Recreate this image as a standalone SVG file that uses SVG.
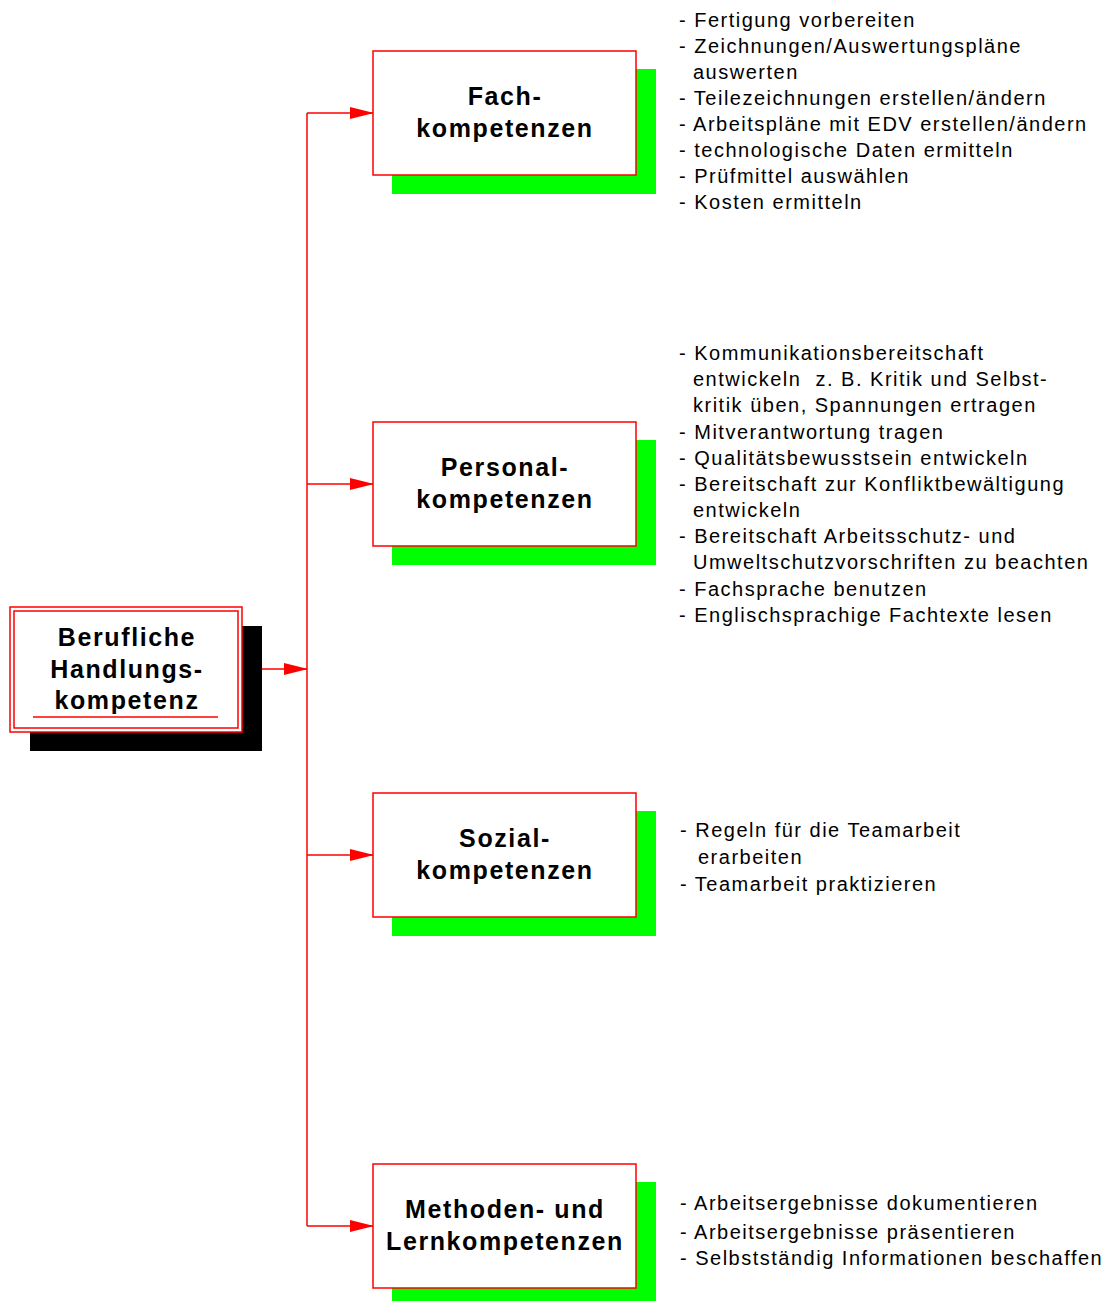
<svg xmlns="http://www.w3.org/2000/svg" width="1105" height="1301" viewBox="0 0 1105 1301">
<style>
.box{fill:#fff;stroke:#ff0000;stroke-width:1.5}
.sh{fill:#00ff00}
.t{font-family:"Liberation Sans",Arial,sans-serif;font-weight:bold;font-size:25px;letter-spacing:1.6px;text-anchor:middle;fill:#000}
.d{font-family:"Liberation Sans",Arial,sans-serif;font-size:20px;letter-spacing:1.5px;fill:#000}
.c{fill:none;stroke:#ff0000;stroke-width:1.5}
</style>
<defs>
<marker id="ah" markerWidth="24" markerHeight="12" refX="23" refY="6" orient="auto" markerUnits="userSpaceOnUse">
<path d="M0,0 L24,6 L0,12 z" fill="#ff0000"/>
</marker>
</defs>
<rect width="1105" height="1301" fill="#fff"/>
<g id="connectors">
<line class="c" x1="307" y1="113" x2="307" y2="1226"/>
<line class="c" x1="262" y1="669" x2="307" y2="669" marker-end="url(#ah)"/>
<line class="c" x1="307" y1="113" x2="373" y2="113" marker-end="url(#ah)"/>
<line class="c" x1="307" y1="484" x2="373" y2="484" marker-end="url(#ah)"/>
<line class="c" x1="307" y1="855" x2="373" y2="855" marker-end="url(#ah)"/>
<line class="c" x1="307" y1="1226" x2="373" y2="1226" marker-end="url(#ah)"/>
</g>
<g id="main">
<rect x="30" y="626" width="232" height="125" fill="#000"/>
<rect x="10" y="607" width="232" height="125" fill="#fff" stroke="#ff0000" stroke-width="1.5"/>
<rect x="14" y="611" width="224" height="117" fill="none" stroke="#ff0000" stroke-width="1.5"/>
<line x1="33" y1="717" x2="218" y2="717" stroke="#ff0000" stroke-width="1.5"/>
<text class="t" x="127" y="646">Berufliche</text>
<text class="t" x="127" y="678">Handlungs-</text>
<text class="t" x="127" y="709">kompetenz</text>
</g>
<g id="fach">
<rect class="sh" x="392" y="69" width="264" height="125"/>
<rect class="box" x="373" y="51" width="263" height="124"/>
<text class="t" x="505" y="105">Fach-</text>
<text class="t" x="505" y="137">kompetenzen</text>
</g>
<g id="fach-text">
<text class="d" x="679" y="27">- Fertigung vorbereiten</text>
<text class="d" x="679" y="53">- Zeichnungen/Auswertungspläne</text>
<text class="d" x="693" y="79">auswerten</text>
<text class="d" x="679" y="105">- Teilezeichnungen erstellen/ändern</text>
<text class="d" x="679" y="131">- Arbeitspläne mit EDV erstellen/ändern</text>
<text class="d" x="679" y="157">- technologische Daten ermitteln</text>
<text class="d" x="679" y="183">- Prüfmittel auswählen</text>
<text class="d" x="679" y="209">- Kosten ermitteln</text>
</g>
<g id="personal">
<rect class="sh" x="392" y="440" width="264" height="125"/>
<rect class="box" x="373" y="422" width="263" height="124"/>
<text class="t" x="505" y="476">Personal-</text>
<text class="t" x="505" y="508">kompetenzen</text>
</g>
<g id="personal-text">
<text class="d" x="679" y="360">- Kommunikationsbereitschaft</text>
<text class="d" x="693" y="386" xml:space="preserve">entwickeln  z. B. Kritik und Selbst-</text>
<text class="d" x="693" y="412">kritik üben, Spannungen ertragen</text>
<text class="d" x="679" y="439">- Mitverantwortung tragen</text>
<text class="d" x="679" y="465">- Qualitätsbewusstsein entwickeln</text>
<text class="d" x="679" y="491">- Bereitschaft zur Konfliktbewältigung</text>
<text class="d" x="693" y="517">entwickeln</text>
<text class="d" x="679" y="543">- Bereitschaft Arbeitsschutz- und</text>
<text class="d" x="693" y="569">Umweltschutzvorschriften zu beachten</text>
<text class="d" x="679" y="596">- Fachsprache benutzen</text>
<text class="d" x="679" y="622">- Englischsprachige Fachtexte lesen</text>
</g>
<g id="sozial">
<rect class="sh" x="392" y="811" width="264" height="125"/>
<rect class="box" x="373" y="793" width="263" height="124"/>
<text class="t" x="505" y="847">Sozial-</text>
<text class="t" x="505" y="879">kompetenzen</text>
</g>
<g id="sozial-text">
<text class="d" x="680" y="837">- Regeln für die Teamarbeit</text>
<text class="d" x="698" y="864">erarbeiten</text>
<text class="d" x="680" y="891">- Teamarbeit praktizieren</text>
</g>
<g id="methoden">
<rect class="sh" x="392" y="1182" width="264" height="119"/>
<rect class="box" x="373" y="1164" width="263" height="124"/>
<text class="t" x="505" y="1218">Methoden- und</text>
<text class="t" x="505" y="1250">Lernkompetenzen</text>
</g>
<g id="methoden-text">
<text class="d" x="680" y="1210">- Arbeitsergebnisse dokumentieren</text>
<text class="d" x="680" y="1239">- Arbeitsergebnisse präsentieren</text>
<text class="d" x="680" y="1265">- Selbstständig Informationen beschaffen</text>
</g>
</svg>
